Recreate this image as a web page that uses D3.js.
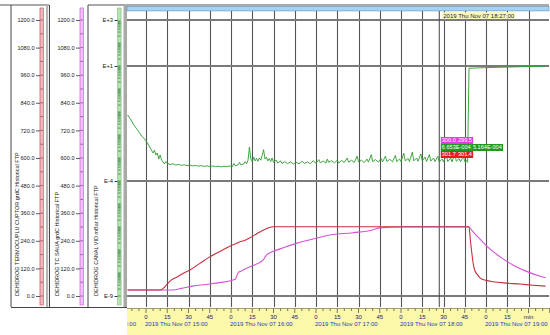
<!DOCTYPE html>
<html><head><meta charset="utf-8">
<script src="https://cdn.jsdelivr.net/npm/d3@7"></script>
<style>
body{margin:0;background:#fff}
svg{display:block;font-family:"Liberation Sans",Arial,sans-serif}
</style></head>
<body><svg id="c" width="550" height="335"></svg>
<script>
// ---------------- data ----------------
const tempTickValues = [0,120,240,360,480,600,720,840,960,1080,1200];
const vacTickValues = [1e3,1e1,1e-4,1e-9];
const vacTickLabels = ["E+3","E+1","E-4","E-9"];
const axisTitles = [
  "DEHIDROG TERMOCUPLU CUPTOR  grdC  Historical FTP",
  "DEHIDROG TC SAUA  grdC  Historical FTP",
  "DEHIDROG CANAL VID  mBar  Historical FTP"
];
const domainStart = "14:46:35", domainEnd = "19:42:21";
const dateText = "2019 Thu Nov 07";
const cursorTime = "18:27:00";
const cursorLabel = "2019 Thu Nov 07  18:27:00";
const readMagenta = ["300.0","299.5"];
const readGreen = ["6.653E-004","5.164E-004"];
const readRed = ["301.7","301.4"];

// furnace thermocouple (red), grdC
const furnaceTime = ["14:47","15:10","15:13","15:15.5","15:18","15:22","15:26","15:31","15:38","15:45","15:53","16:01","16:04","16:06","16:09","16:13","16:18","16:23","16:27","16:30","17:00","17:30","18:00","18:30","18:48","18:49","18:50","18:51","18:52","18:54","18:56","19:00","19:05","19:15","19:24","19:33","19:42"];
const furnaceTemp = [26,26,38,56,70,83,98,113,142,170,196,222,229,235,240,252,270,287,298,301,301,301,301,301,301,240,187,140,113,92,78,68,62,56,52,47,43];

// TC saua (magenta), grdC
const sauaTime = ["14:47","15:19","15:25","15:33","15:42","15:52","16:03","16:04","16:05","16:07","16:08.5","16:13","16:18","16:22.6","16:25","16:29.6","16:38","16:46.6","17:00.7","17:10","17:26","17:40","17:45","18:01","18:20","18:48","18:50","18:53","19:00.5","19:10","19:19","19:29","19:40","19:42"];
const sauaTemp = [26,26,33,43,50,58,73,85,101,108,113,126,139,156,178,193,212,230,252,265,275,287,296,300,300,300,285,265,217,170,135,106,83,80];

// canal vid (green), mBar, log scale
const vacuumTime = ["14:47","14:49","14:51","14:53","14:55","14:57","14:59","15:01","15:03","15:05","15:06","15:07","15:08","15:09","15:10","15:11","15:13","15:14","15:15","15:17","15:19","15:21","15:23","15:25","15:27","15:29","15:31","15:33","15:35","15:37","15:39","15:41","15:43","15:45","15:47","15:49","15:51","15:53","15:55","15:57","15:59","16:01","16:02","16:03","16:05","16:06","16:07","16:09","16:10","16:11","16:12","16:13","16:14","16:15","16:16","16:17","16:18","16:19","16:20","16:21","16:22","16:23","16:24","16:25","16:26","16:27","16:28","16:29","16:30","16:32","16:33","16:35","16:36","16:38","16:40","16:42","16:44","16:46","16:48","16:50","16:52","16:54","16:56","16:58","17:00","17:02","17:03","17:05","17:07","17:08","17:09","17:11","17:13","17:15","17:16","17:18","17:20","17:22","17:23","17:25","17:27","17:29","17:30","17:32","17:34","17:36","17:37","17:39","17:40","17:42","17:44","17:46","17:47","17:49","17:50","17:52","17:54","17:56","17:57","17:59","18:00","18:02","18:03","18:05","18:06","18:08","18:09","18:11","18:12","18:14","18:15","18:17","18:18","18:20","18:21","18:23","18:24","18:26","18:27","18:29","18:30","18:32","18:33","18:35","18:36","18:38","18:39","18:41","18:42","18:44","18:45","18:46","18:47","18:48","18:55","19:10","19:25","19:42"];
const vacuumValue = [0.074,0.05,0.03,0.02,0.0135,0.009,0.0067,0.0045,0.0027,0.00165,0.0022,0.00135,0.00165,0.0009,0.00135,0.00082,0.00055,0.0007,0.0006,0.00052,0.00056,0.00049,0.00053,0.00048,0.00051,0.00046,0.00049,0.00045,0.00048,0.00044,0.00047,0.00043,0.00046,0.00042,0.00045,0.00042,0.00044,0.00041,0.00044,0.00042,0.00045,0.00043,0.00058,0.00046,0.0005,0.00065,0.0005,0.00055,0.0007,0.00056,0.0008,0.003,0.0009,0.0007,0.0011,0.00075,0.00095,0.00072,0.001,0.0008,0.0013,0.0023,0.0009,0.0011,0.00075,0.00095,0.0007,0.001,0.00065,0.0008,0.0006,0.00075,0.00058,0.0007,0.00056,0.00068,0.00055,0.00065,0.00056,0.00072,0.00058,0.00068,0.00057,0.00075,0.0006,0.00085,0.00062,0.00074,0.0006,0.0009,0.00065,0.00076,0.00062,0.0008,0.0006,0.00078,0.00064,0.001,0.00066,0.0008,0.00064,0.0012,0.00068,0.0008,0.00063,0.0009,0.00066,0.0014,0.0007,0.00085,0.00066,0.00095,0.00068,0.0012,0.0007,0.00088,0.00068,0.0013,0.0007,0.0009,0.0007,0.0016,0.00075,0.00095,0.0007,0.0018,0.00075,0.001,0.00072,0.0015,0.00076,0.0011,0.0007,0.0014,0.00074,0.001,0.0007,0.0012,0.000665,0.0009,0.00068,0.0013,0.0007,0.001,0.00068,0.0016,0.00072,0.00095,0.00068,0.0012,0.0007,0.0008,0.00065,8.0,8.3,8.8,9.3,9.8];

// ---------------- drawing ----------------
const svg = d3.select("#c");
const PL = 127, PR = 547, PT = 11, PB = 307;
const parseT = d3.timeParse("%H:%M:%S");
function tp(s){
  const [h,m,sec] = s.split(":");
  const mm = parseFloat(m);
  const whole = Math.floor(mm), frac = mm - whole;
  const extra = sec ? +sec : Math.round(frac*60);
  return parseT(`${h}:${String(whole).padStart(2,"0")}:${String(extra).padStart(2,"0")}`);
}
const x = d3.scaleTime().domain([tp(domainStart), tp(domainEnd)]).range([PL, 546]);
const yT = d3.scaleLinear().domain([0,1200]).range([296,20]);
const yV = d3.scaleLog().domain([1e-9,1e3]).range([296,20]);

// ---- left panels ----
const g = svg.append("g");
// panel frame lines
g.append("line").attr("x1",0).attr("x2",49).attr("y1",5).attr("y2",5).attr("stroke","#555").attr("stroke-width",1.2);
g.append("line").attr("x1",11).attr("x2",11).attr("y1",5).attr("y2",PB).attr("stroke","#444");
g.append("rect").attr("x",46).attr("y",5).attr("width",2.2).attr("height",PB-5).attr("fill","#b5b5b5");
g.append("line").attr("x1",49.5).attr("x2",49.5).attr("y1",5).attr("y2",PB).attr("stroke","#444");
g.append("line").attr("x1",88).attr("x2",88).attr("y1",5).attr("y2",PB).attr("stroke","#444");
g.append("line").attr("x1",88).attr("x2",127).attr("y1",5).attr("y2",5).attr("stroke","#555").attr("stroke-width",1.2);
g.append("rect").attr("x",123.5).attr("y",5).attr("width",3.5).attr("height",PB-5).attr("fill","#a9a9a9");
g.append("line").attr("x1",11).attr("x2",127).attr("y1",PB+0.5).attr("y2",PB+0.5).attr("stroke","#444");

function tempAxis(xBar, fill, stroke, tickColor){
  g.append("rect").attr("x",xBar).attr("y",8).attr("width",3.3).attr("height",297)
    .attr("fill",fill).attr("stroke",stroke).attr("stroke-width",0.7);
  const ax = d3.axisLeft(yT).tickValues(tempTickValues).tickFormat(d3.format(".1f")).tickSize(4).tickPadding(1.5);
  const a = g.append("g").attr("transform",`translate(${xBar},0)`).call(ax);
  a.select(".domain").remove();
  a.selectAll("line").attr("stroke","#333").attr("stroke-width",0.8);
  a.selectAll("text").attr("font-size",5.6).attr("fill","#222").attr("font-family","Liberation Sans, Arial, sans-serif");
  // minor ticks inside bar
  const minors = d3.range(60,1200,120);
  g.selectAll(null).data(minors.concat(tempTickValues)).enter().append("line")
    .attr("x1",xBar+0.6).attr("x2",xBar+2.7).attr("y1",d=>yT(d)).attr("y2",d=>yT(d))
    .attr("stroke",tickColor).attr("stroke-width",0.8);
}
tempAxis(40, "#f2b8c2", "#c8505f", "#8a2a3a");
tempAxis(80, "#f2c2f2", "#d55ad5", "#7a2a7a");

// vacuum axis (log)
g.append("rect").attr("x",117.5).attr("y",8).attr("width",3.6).attr("height",297)
  .attr("fill","#b4e2b4").attr("stroke","#7cc27c").attr("stroke-width",0.6);
const vMinor = [];
for (let e=-9; e<3; e++) for (let k=1;k<10;k++) vMinor.push(k*Math.pow(10,e));
g.selectAll(null).data(vMinor).enter().append("line")
  .attr("x1",118).attr("x2",120.6).attr("y1",d=>yV(d)).attr("y2",d=>yV(d))
  .attr("stroke","#2e6e2e").attr("stroke-width",0.7);
const vax = d3.axisLeft(yV).tickValues(vacTickValues).tickFormat((d,i)=>vacTickLabels[i]).tickSize(3).tickPadding(1.5);
const va = g.append("g").attr("transform","translate(117.5,0)").call(vax);
va.select(".domain").remove();
va.selectAll("line").attr("stroke","#333");
va.selectAll("text").attr("font-size",5.8).attr("fill","#222").attr("font-family","Liberation Sans, Arial, sans-serif");

// axis titles
[[17,0],[57.5,1],[96,2]].forEach(([xx,i])=>{
  g.append("text").attr("transform",`translate(${xx},296) rotate(-90)`)
    .attr("font-size",5.5).attr("fill","#222").attr("dy","0.35em").text(axisTitles[i]);
});

// ---- plot area ----
const p = svg.append("g");
p.append("line").attr("x1",PL).attr("x2",549).attr("y1",5).attr("y2",5).attr("stroke","#555").attr("stroke-width",1.2);
p.append("rect").attr("x",PL).attr("y",6.3).attr("width",549-PL).attr("height",4.6)
  .attr("fill","#a3d3f5").attr("stroke","#5d8fb6").attr("stroke-width",0.6);

// vertical grid every 15 minutes
const grid15 = x.ticks(d3.timeMinute.every(15));
p.selectAll(null).data(grid15).enter().append("line")
  .attr("x1",d=>Math.round(x(d))+0.5).attr("x2",d=>Math.round(x(d))+0.5).attr("y1",PT).attr("y2",PB)
  .attr("stroke","#555").attr("stroke-width",1.1);
// horizontal grid at labelled vacuum decades
p.selectAll(null).data(vacTickValues).enter().append("line")
  .attr("x1",PL).attr("x2",549).attr("y1",d=>yV(d)).attr("y2",d=>yV(d))
  .attr("stroke","#7a7a7a").attr("stroke-width",1.8);

// cursor
const cx = x(tp(cursorTime));
p.append("line").attr("x1",cx).attr("x2",cx).attr("y1",PT).attr("y2",PB).attr("stroke","#444").attr("stroke-width",1);

// series
const clip = svg.append("clipPath").attr("id","pc").append("rect").attr("x",PL).attr("y",PT).attr("width",PR-PL).attr("height",PB-PT);
const series = p.append("g").attr("clip-path","url(#pc)");
const lineT = d3.line().x(d=>x(d[0])).y(d=>yT(d[1])).curve(d3.curveMonotoneX);
const lineV = d3.line().x(d=>x(d[0])).y(d=>yV(d[1]));
series.append("path").datum(sauaTime.map((t,i)=>[tp(t),sauaTemp[i]]))
  .attr("d",lineT).attr("fill","none").attr("stroke","#d452d4").attr("stroke-width",1.1);
series.append("path").datum(furnaceTime.map((t,i)=>[tp(t),furnaceTemp[i]]))
  .attr("d",lineT).attr("fill","none").attr("stroke","#c5303f").attr("stroke-width",1.1);
series.append("path").datum(vacuumTime.map((t,i)=>[tp(t),vacuumValue[i]]))
  .attr("d",lineV).attr("fill","none").attr("stroke","#2f9a2f").attr("stroke-width",0.9);

// readout boxes
function readRow(vals, y0, bg){
  let xx = cx + 1.5;
  vals.forEach(v=>{
    const t = p.append("text").attr("x",xx+1).attr("y",y0+5.3).attr("font-size",5.6).attr("fill","#fff").text(v);
    const w = t.node().getComputedTextLength()+2.2;
    p.insert("rect", () => t.node()).attr("x",xx).attr("y",y0).attr("width",w).attr("height",7).attr("fill",bg);
    xx += w;
  });
}
readRow(readMagenta, 137, "#e03ee0");
readRow(readGreen, 144, "#1f9a1f");
readRow(readRed, 151, "#e41e1e");

// cursor label
const ct = p.append("text").attr("x",cx+4).attr("y",17.5).attr("font-size",6).attr("fill","#1a1a6a").text(cursorLabel);
const cw = ct.node().getComputedTextLength();
p.insert("rect",()=>ct.node()).attr("x",cx+3).attr("y",12.3).attr("width",cw+2).attr("height",6.5).attr("fill","#fbf9b0");

// ---- bottom time axis ----
const b = svg.append("g");
b.append("rect").attr("x",PL).attr("y",308).attr("width",550-PL).attr("height",27).attr("fill","#fbf8aa");
svg.append("clipPath").attr("id","bc").append("rect").attr("x",PL).attr("y",308).attr("width",550-PL).attr("height",27);
const bg = b.append("g").attr("clip-path","url(#bc)");
bg.append("line").attr("x1",PL).attr("x2",550).attr("y1",308.5).attr("y2",308.5).attr("stroke","#8a8a5a").attr("stroke-width",0.8);
const t5 = d3.timeMinute.every(5).range(tp("14:40"), tp("19:55"));
bg.selectAll(null).data(t5).enter().append("line")
  .attr("x1",d=>x(d)).attr("x2",d=>x(d)).attr("y1",308.5)
  .attr("y2",d=>d.getMinutes()%15===0?313:311)
  .attr("stroke","#555").attr("stroke-width",0.8);
const t15 = d3.timeMinute.every(15).range(tp("14:45"), tp("19:55"));
bg.selectAll(null).data(t15.filter(d=>x(d)>PL && x(d)<549)).enter().append("text")
  .attr("x",d=>x(d)).attr("y",319).attr("text-anchor","middle").attr("font-size",6).attr("fill","#1a1a6a")
  .text(d=>(d.getHours()===19 && d.getMinutes()===30) ? "min" : String(d.getMinutes()));
const hours = d3.timeHour.every(1).range(tp("14:00"), tp("19:55"));
bg.selectAll(null).data(hours).enter().append("text")
  .attr("x",d=>x(d) < PL ? PL+9 : x(d)-1)
  .attr("text-anchor",d=>x(d) < PL ? "end" : "start")
  .attr("y",326).attr("font-size",6).attr("fill","#2040c0")
  .text(d=>`${dateText}  ${d3.timeFormat("%H:%M")(d)}`);
</script>
</body></html>
